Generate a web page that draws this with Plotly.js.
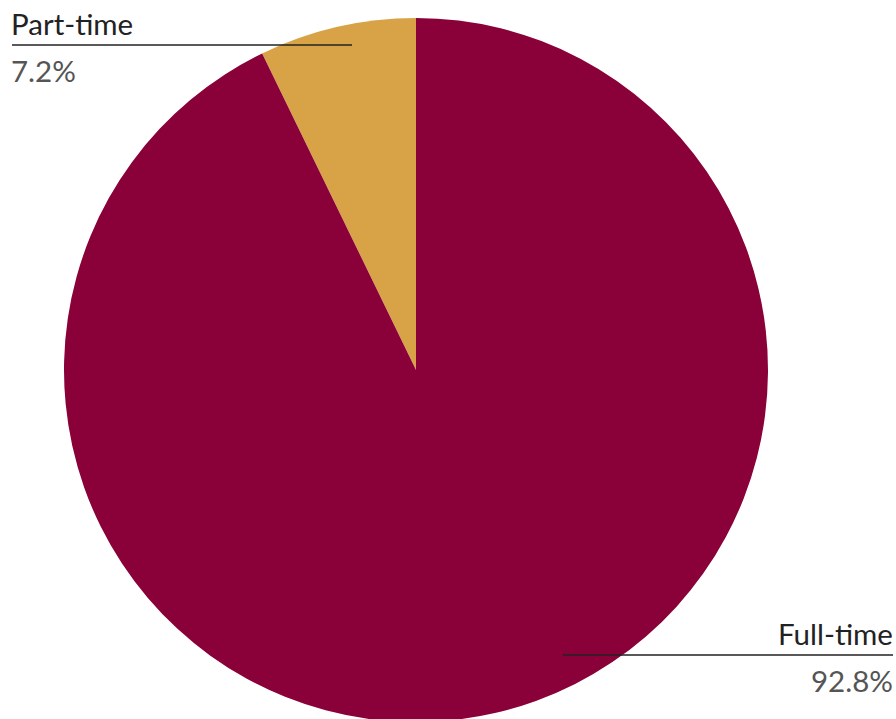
<!DOCTYPE html>
<html>
<head>
<meta charset="utf-8">
<script src="https://cdn.plot.ly/plotly-3.0.1.min.js"></script>
<style>
html, body { margin:0; padding:0; background:#fff; overflow:hidden; }
#wrap { width:896px; height:719px; overflow:hidden; }
#chart { width:896px; height:740px; }
</style>
</head>
<body>
<div id="wrap"><div id="chart"></div></div>
<script>
const categories = ["Part-time", "Full-time"];
const values = [7.2, 92.8];
const valueLabels = ["7.2%", "92.8%"];
const colors = ["#D8A346", "#8A0038"];

const H = 740, W = 896;
const py = px => 1 - px / H;
const pxX = px => px / W;
const total = values.reduce((a, b) => a + b, 0);

const trace = {
  type: "pie",
  labels: categories,
  values: values,
  sort: false,
  direction: "clockwise",
  rotation: -values[0] / total * 360,
  textinfo: "none",
  hoverinfo: "label+percent",
  marker: { colors: colors, line: { width: 0 } },
  domain: { x: [0, 832 / W], y: [py(722), py(18)] },
  showlegend: false
};

const font = { family: "Lato, 'Open Sans', sans-serif" };
const layout = {
  width: W, height: H,
  margin: { l: 0, r: 0, t: 0, b: 0 },
  paper_bgcolor: "#fff",
  showlegend: false,
  shapes: [
    { type: "line", xref: "paper", yref: "paper", x0: pxX(12), x1: pxX(352), y0: py(45), y1: py(45),
      line: { color: "#222", width: 1.5 }, layer: "above" },
    { type: "line", xref: "paper", yref: "paper", x0: pxX(563), x1: pxX(893), y0: py(655), y1: py(655),
      line: { color: "#222", width: 1.5 }, layer: "above" }
  ],
  annotations: [
    { text: categories[0], xref: "paper", yref: "paper", x: pxX(9), y: py(23), xanchor: "left", yanchor: "middle",
      showarrow: false, font: Object.assign({ size: 29.5, color: "#222" }, font) },
    { text: valueLabels[0], xref: "paper", yref: "paper", x: pxX(9), y: py(70), xanchor: "left", yanchor: "middle",
      showarrow: false, font: Object.assign({ size: 29.5, color: "#555" }, font) },
    { text: categories[1], xref: "paper", yref: "paper", x: pxX(895), y: py(633), xanchor: "right", yanchor: "middle",
      showarrow: false, font: Object.assign({ size: 29.5, color: "#222" }, font) },
    { text: valueLabels[1], xref: "paper", yref: "paper", x: pxX(895), y: py(680), xanchor: "right", yanchor: "middle",
      showarrow: false, font: Object.assign({ size: 29.5, color: "#555" }, font) }
  ]
};

Plotly.newPlot("chart", [trace], layout, { displayModeBar: false, staticPlot: true });
</script>
</body>
</html>
